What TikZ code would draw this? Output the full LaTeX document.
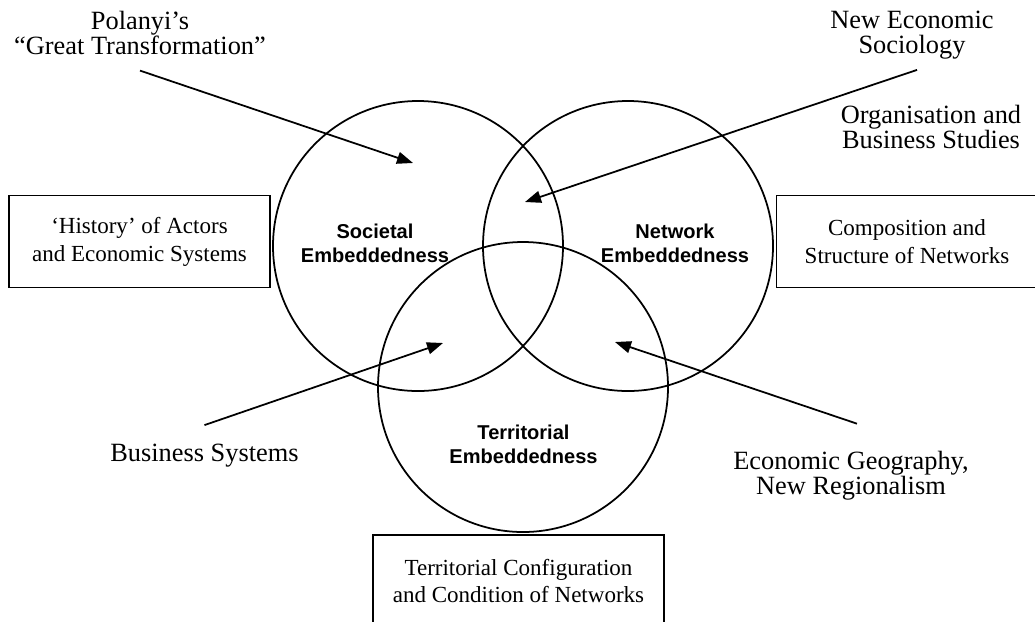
\documentclass[tikz,border=0pt]{standalone}
\usepackage{fontspec}
\setmainfont{Liberation Serif}
\setsansfont{Liberation Sans}
\usetikzlibrary{arrows.meta, positioning}

\begin{document}
\begin{tikzpicture}[
  x=0.2mm, y=-0.2mm,
  embcirc/.style={draw, circle, line width=1pt, minimum size=58mm, inner sep=0pt},
  embname/.style={font=\sffamily\bfseries\fontsize{11.4}{13.6}\selectfont, align=center, inner sep=0pt},
  srclabel/.style={font=\fontsize{15}{14.2}\selectfont, align=center, inner sep=0pt},
  srcbox/.style={draw, line width=1pt, minimum width=52.2mm, minimum height=18.4mm, align=center, font=\fontsize{13.1}{15.9}\selectfont},
  arr/.style={line width=1pt, -{Triangle[length=3.2mm, width=2.4mm]}}
]
  \path[use as bounding box, clip] (0,0) rectangle (1035,621);

  \node[embcirc] (soc) at (418,246) {};
  \node[embcirc] (net) at (628,246) {};
  \node[embcirc] (ter) at (523,387) {};
  \node[embname] (socname) at (375,243) {Societal\\Embeddedness};
  \node[embname] (netname) at (675,243) {Network\\Embeddedness};
  \node[embname] (tername) at (523.5,444) {Territorial\\Embeddedness};

  \node[srcbox] (history) at (139.5,241.5) {‘History’ of Actors\\and Economic Systems};
  \node[srcbox] (structure) at (907,241.5) {Composition and\\Structure of Networks};
  \node[srcbox, minimum width=58.2mm] (config) at (518.5,581) {Territorial Configuration\\and Condition of Networks};

  \node[srclabel] (polanyi) at (140,33) {Polanyi’s\\“Great Transformation”};
  \node[srclabel] (nes) at (912,35) {New Economic\\Sociology};
  \node[srclabel] (obs) at (931,127) {Organisation and\\Business Studies};
  \node[srclabel] (bsys) at (204.5,456) {Business Systems};
  \node[srclabel] (ecogeo) at (851,475.5) {Economic Geography,\\New Regionalism};

  \coordinate[below=3.1mm of polanyi] (polanyi-tail);
  \coordinate[below=2.1mm of nes, xshift=1mm] (nes-tail);
  \coordinate[above=3.8mm of bsys] (bsys-tail);
  \coordinate[above=5.4mm of ecogeo, xshift=1.2mm] (ecogeo-tail);
  \coordinate (soc-in) at (413,163);
  \coordinate (socnet-in) at (525,202);
  \coordinate (socter-in) at (443,343);
  \coordinate (netter-in) at (615,342);

  \draw[arr] (polanyi-tail) -- (soc-in);
  \draw[arr] (nes-tail) -- (socnet-in);
  \draw[arr] (bsys-tail) -- (socter-in);
  \draw[arr] (ecogeo-tail) -- (netter-in);
\end{tikzpicture}
\end{document}
